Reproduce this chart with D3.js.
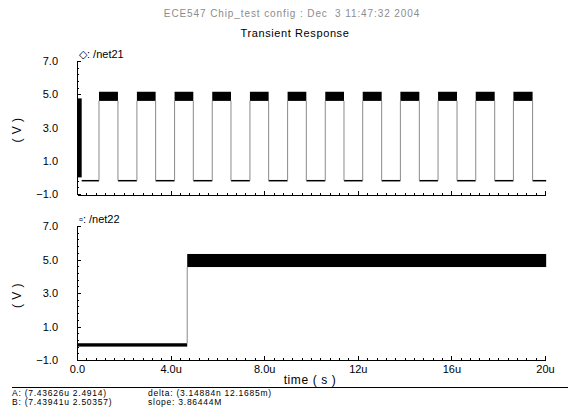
<!DOCTYPE html>
<meta charset="utf-8">
<style>
body { margin: 0; background: #fff; }
text { font-family: "Liberation Sans", Arial, sans-serif; }
.axis path, .axis line { stroke: #000; stroke-width: 1; shape-rendering: crispEdges; }
.axis text { font-size: 11px; fill: #000; }
</style>
<body>
<script src="https://d3js.org/d3.v7.min.js"></script>
<script>

// values (time in microseconds, volts)
var xTicks = [0, 4, 8, 12, 16, 20];
var xTickLabels = ["0.0", "4.0u", "8.0u", "12u", "16u", "20u"];
var yTicks = [-1, 1, 3, 5, 7];

// net21 : square wave
var net21Burst = {t0: 0, t1: 0.2, lo: 0.0, hi: 4.75};
var net21Rise = [0.94, 2.56, 4.17, 5.78, 7.39, 9.00, 10.61, 12.21, 13.82, 15.43, 17.04, 18.65];
var net21Fall = [1.75, 3.36, 4.97, 6.58, 8.19, 9.80, 11.41, 13.02, 14.63, 16.24, 17.85, 19.47];
var net21High = [4.6, 5.15];
var net21Low = -0.2;
var net21End = 20.05;

// net22 : single step
var net22Step = 4.71;
var net22Low = [-0.2, 0.0];
var net22High = [4.55, 5.33];
var net22End = 20.05;

var W = 570, H = 410;
var svg = d3.select("body").append("svg")
    .attr("width", W)
    .attr("height", H);

var x = d3.scaleLinear().domain([0, 20]).range([77, 545]);
var yTop = d3.scaleLinear().domain([-1, 7]).range([194, 61]);
var yBot = d3.scaleLinear().domain([-1, 7]).range([360, 226]);

// header
svg.append("text")
    .attr("x", 292).attr("y", 17)
    .attr("text-anchor", "middle")
    .attr("xml:space", "preserve")
    .style("font-size", "10px").style("fill", "#8c8c8c").style("letter-spacing", "0.9px")
    .text("ECE547 Chip_test config : Dec  3 11:47:32 2004");

svg.append("text")
    .attr("x", 295).attr("y", 37)
    .attr("text-anchor", "middle")
    .style("font-size", "11px").style("letter-spacing", "0.6px")
    .text("Transient Response");

function drawAxes(y, axisY) {
  // y axis, ticks inward
  svg.append("g")
      .attr("class", "axis")
      .attr("transform", "translate(" + x(0) + ",0)")
      .call(d3.axisLeft(y).tickValues(yTicks).tickSizeInner(-4).tickSizeOuter(0)
        .tickPadding(19).tickFormat(d3.format(".1f")));
  svg.append("g")
      .attr("class", "axis")
      .attr("transform", "translate(" + x(0) + ",0)")
      .call(d3.axisLeft(y).tickValues(d3.range(-1, 7.01, 0.4)).tickSizeInner(-2).tickSizeOuter(0)
        .tickFormat(""))
      .select(".domain").remove();

  // x axis, ticks upward
  var g = svg.append("g")
      .attr("class", "axis")
      .attr("transform", "translate(0," + axisY + ")")
      .call(d3.axisBottom(x).tickValues(xTicks).tickSizeInner(-4).tickSizeOuter(0)
        .tickPadding(5).tickFormat(function(d, i) { return xTickLabels[i]; }));
  svg.append("g")
      .attr("class", "axis")
      .attr("transform", "translate(0," + axisY + ")")
      .call(d3.axisBottom(x).tickValues(d3.range(0, 20.01, 0.4)).tickSizeInner(-2).tickSizeOuter(0)
        .tickFormat(""))
      .select(".domain").remove();
  return g;
}

var topX = drawAxes(yTop, 195);
topX.selectAll("text").remove();
drawAxes(yBot, 360);

// y axis titles
[yTop(2.85), yBot(2.85)].forEach(function(cy) {
  svg.append("text")
      .attr("transform", "translate(21," + cy + ") rotate(-90)")
      .attr("text-anchor", "middle")
      .attr("xml:space", "preserve")
      .style("font-size", "12px").style("letter-spacing", "0.5px")
      .text("( V )");
});

svg.append("text")
    .attr("x", 310).attr("y", 384)
    .attr("text-anchor", "middle")
    .attr("xml:space", "preserve")
    .style("font-size", "12px").style("letter-spacing", "0.6px")
    .text("time ( s )");

// legends
svg.append("text").attr("x", 79).attr("y", 58).style("font-size", "11px").text("\u25C7: /net21");
svg.append("text").attr("x", 79).attr("y", 223).style("font-size", "11px").text("\u25AB: /net22");

// ---- net21 ----
var edge = {stroke: "#8a8a8a", width: 1};

svg.append("rect")
    .attr("x", x(net21Burst.t0)).attr("width", x(net21Burst.t1) - x(net21Burst.t0))
    .attr("y", yTop(net21Burst.hi)).attr("height", yTop(net21Burst.lo) - yTop(net21Burst.hi))
    .attr("fill", "#000");

// low segments: from previous fall (or burst end) to next rise
var lowStarts = [net21Burst.t1].concat(net21Fall);
var lowEnds = net21Rise.concat([net21End]);
svg.append("g").selectAll("line")
    .data(lowStarts)
  .enter().append("line")
    .attr("x1", function(d) { return x(d); })
    .attr("x2", function(d, i) { return x(lowEnds[i]); })
    .attr("y1", yTop(net21Low)).attr("y2", yTop(net21Low))
    .attr("stroke", "#000").attr("stroke-width", 1.5);

// high bands
svg.append("g").selectAll("rect")
    .data(net21Rise)
  .enter().append("rect")
    .attr("x", function(d) { return x(d); })
    .attr("width", function(d, i) { return x(net21Fall[i]) - x(d); })
    .attr("y", yTop(net21High[1]))
    .attr("height", yTop(net21High[0]) - yTop(net21High[1]))
    .attr("fill", "#000");

// edges
svg.append("g").selectAll("line")
    .data(net21Rise.concat(net21Fall))
  .enter().append("line")
    .attr("x1", function(d) { return x(d); })
    .attr("x2", function(d) { return x(d); })
    .attr("y1", yTop(net21Low)).attr("y2", yTop(net21High[0]))
    .attr("stroke", edge.stroke).attr("stroke-width", edge.width);

// ---- net22 ----
svg.append("rect")
    .attr("x", x(0)).attr("width", x(net22Step) - x(0))
    .attr("y", yBot(net22Low[1])).attr("height", yBot(net22Low[0]) - yBot(net22Low[1]))
    .attr("fill", "#000");
svg.append("line")
    .attr("x1", x(net22Step)).attr("x2", x(net22Step))
    .attr("y1", yBot(net22Low[1])).attr("y2", yBot(net22High[0]))
    .attr("stroke", edge.stroke).attr("stroke-width", edge.width);
svg.append("rect")
    .attr("x", x(net22Step)).attr("width", x(net22End) - x(net22Step))
    .attr("y", yBot(net22High[1])).attr("height", yBot(net22High[0]) - yBot(net22High[1]))
    .attr("fill", "#000");

// cursor readout
svg.append("line")
    .attr("x1", 12).attr("x2", 568).attr("y1", 387.5).attr("y2", 387.5)
    .attr("stroke", "#000").attr("stroke-width", 1);

var readout = [
  {x: 12, y: 395.5, t: "A: (7.43626u 2.4914)"},
  {x: 12, y: 404.5, t: "B: (7.43941u 2.50357)"},
  {x: 148, y: 395.5, t: "delta: (3.14884n 12.1685m)"},
  {x: 148, y: 404.5, t: "slope: 3.86444M"}
];
svg.append("g").selectAll("text")
    .data(readout)
  .enter().append("text")
    .attr("x", function(d) { return d.x; })
    .attr("y", function(d) { return d.y; })
    .style("font-size", "8.5px").style("letter-spacing", "0.75px")
    .text(function(d) { return d.t; });

</script>
</body>
